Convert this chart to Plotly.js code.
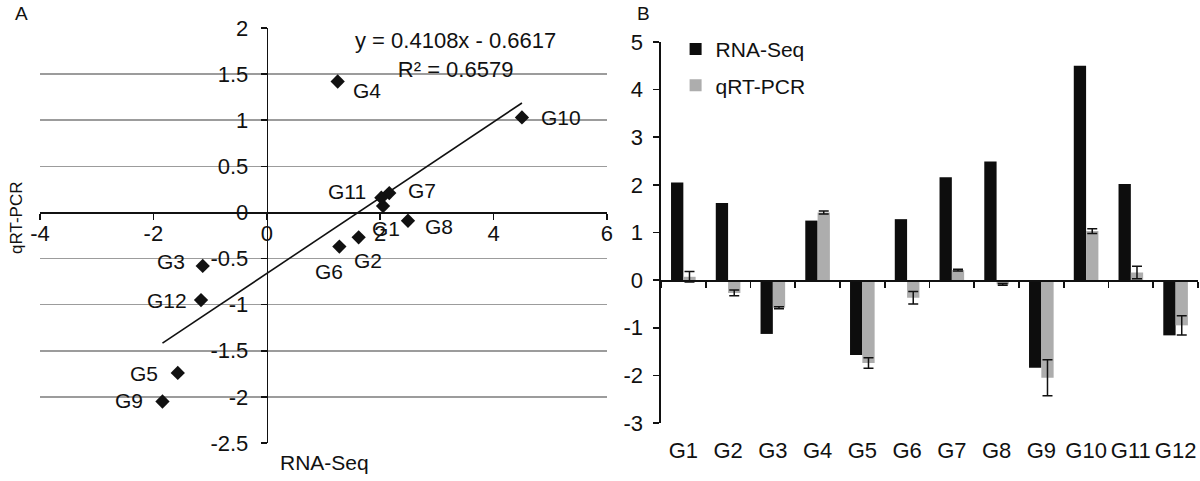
<!DOCTYPE html>
<html>
<head>
<meta charset="utf-8">
<script src="https://cdn.plot.ly/plotly-3.0.1.min.js"></script>
<style>html,body{margin:0;padding:0;background:#fff;}#chart{width:1200px;height:481px;}</style>
</head>
<body>
<div id="chart"></div>
<script>
// ---- data ----
const genes = ['G1','G2','G3','G4','G5','G6','G7','G8','G9','G10','G11','G12'];
const rnaSeq = [2.05, 1.62, -1.13, 1.25, -1.57, 1.28, 2.16, 2.49, -1.84, 4.50, 2.02, -1.16];
const qrtPcr = [0.07, -0.27, -0.58, 1.42, -1.74, -0.37, 0.21, -0.09, -2.05, 1.03, 0.16, -0.95];
const qrtErr = [0.11, 0.06, 0.02, 0.03, 0.11, 0.13, 0.02, 0.02, 0.38, 0.05, 0.13, 0.20];
const slope = 0.4108;
const intercept = -0.6617;
const rSquared = 0.6579;
const scatterXTicks = [-4, -2, 0, 2, 4, 6];
const scatterXTickText = ['-4', '-2', '0', '2', '4', '6'];
const scatterYTicks = [2, 1.5, 1, 0.5, 0, -0.5, -1, -1.5, -2, -2.5];
const scatterYTickText = ['2', '1.5', '1', '0.5', '0', '-0.5', '-1', '-1.5', '-2', '-2.5'];
const barYTicks = [5, 4, 3, 2, 1, 0, -1, -2, -3];
const barYTickText = ['5', '4', '3', '2', '1', '0', '-1', '-2', '-3'];

// ---- label placement for the scatter points (style only) ----
const labelAnchor = ['center','center','right','left','right','center','left','left','right','left','right','right'];
const labelDx = [3, 9, -16, 13, -18, -10, 17, 15, -17, 17, -13, -12];
const labelDy = [-23, -23, 4, -9, -1, -25, 3, -6, 1, 0, 6, 0];

const FONT = 'Liberation Sans, Arial, sans-serif';
const INK = '#111111';

const xMin = Math.min(...rnaSeq), xMax = Math.max(...rnaSeq);
const trendX = [xMin, xMax];
const trendY = trendX.map(v => slope * v + intercept);

const traces = [
  {
    type: 'scatter', mode: 'lines', x: trendX, y: trendY, xaxis: 'x', yaxis: 'y',
    line: {color: INK, width: 1.6}, showlegend: false, hoverinfo: 'skip'
  },
  {
    type: 'scatter', mode: 'markers', x: rnaSeq, y: qrtPcr, xaxis: 'x', yaxis: 'y',
    marker: {symbol: 'diamond', size: 11, color: INK},
    showlegend: false, cliponaxis: false
  },
  {
    type: 'bar', name: 'RNA-Seq', x: genes, y: rnaSeq, xaxis: 'x2', yaxis: 'y2',
    marker: {color: '#0d0d0d'}, legendgroup: 'a'
  },
  {
    type: 'bar', name: 'qRT-PCR', x: genes, y: qrtPcr, xaxis: 'x2', yaxis: 'y2',
    marker: {color: '#adadad'}, legendgroup: 'b',
    error_y: {type: 'data', array: qrtErr, visible: true, color: INK, thickness: 1.5, width: 5}
  }
];

const axisCommon = {
  showline: true, linecolor: INK, linewidth: 1.6,
  ticks: 'outside', ticklen: 6, tickcolor: INK, tickwidth: 1.6,
  zeroline: false, showgrid: false, fixedrange: true,
  tickfont: {family: FONT, size: 22, color: INK}
};

const pointLabels = genes.map((g, i) => ({
  text: g, xref: 'x', yref: 'y', x: rnaSeq[i], y: qrtPcr[i], showarrow: false,
  xanchor: labelAnchor[i], yanchor: 'middle', xshift: labelDx[i], yshift: labelDy[i],
  font: {family: FONT, size: 21, color: INK}
}));

const layout = {
  width: 1200, height: 481,
  margin: {l: 0, r: 0, t: 0, b: 0, pad: 0},
  paper_bgcolor: '#ffffff', plot_bgcolor: '#ffffff',
  font: {family: FONT, color: INK},
  barmode: 'group', bargap: 0.45, bargroupgap: 0,
  showlegend: true,
  legend: {
    x: 0.563, y: 0.940, xanchor: 'left', yanchor: 'top',
    font: {family: FONT, size: 21, color: INK},
    bgcolor: 'rgba(0,0,0,0)', traceorder: 'grouped', tracegroupgap: 6,
    itemwidth: 30
  },
  xaxis: Object.assign({}, axisCommon, {
    domain: [0.03333, 0.50583], range: [-4, 6], anchor: 'free', position: 0.5584,
    tickmode: 'array', tickvals: scatterXTicks, ticktext: scatterXTickText,
    tickangle: 0, ticklabelstandoff: -5
  }),
  yaxis: Object.assign({}, axisCommon, {
    domain: [0.0790, 0.9418], range: [-2.5, 2], anchor: 'free', position: 0.2223,
    tickmode: 'array', tickvals: scatterYTicks, ticktext: scatterYTickText,
    showgrid: true, gridcolor: '#9c9c9c', gridwidth: 1.5,
    ticklabelstandoff: 8
  }),
  xaxis2: Object.assign({}, axisCommon, {
    domain: [0.5508, 0.9983], range: [-0.5, 11.5], anchor: 'free', position: 0.4177,
    type: 'category', tickson: 'boundaries', tickangle: 0,
    ticklabelstandoff: 150
  }),
  yaxis2: Object.assign({}, axisCommon, {
    domain: [0.1206, 0.9127], range: [-3, 5], anchor: 'x2',
    tickmode: 'array', tickvals: barYTicks, ticktext: barYTickText,
    ticklabelstandoff: 6
  }),
  annotations: pointLabels.concat([
    {text: 'A', xref: 'paper', yref: 'paper', x: 0.0178, y: 0.972, showarrow: false,
     font: {family: FONT, size: 19, color: INK}, xanchor: 'center', yanchor: 'middle'},
    {text: 'B', xref: 'paper', yref: 'paper', x: 0.536, y: 0.972, showarrow: false,
     font: {family: FONT, size: 19, color: INK}, xanchor: 'center', yanchor: 'middle'},
    {text: 'qRT-PCR', xref: 'paper', yref: 'paper', x: 0.0142, y: 0.547, textangle: -90, showarrow: false,
     font: {family: FONT, size: 17, color: INK}, xanchor: 'center', yanchor: 'middle'},
    {text: 'RNA-Seq', xref: 'paper', yref: 'paper', x: 0.27, y: 0.039, showarrow: false,
     font: {family: FONT, size: 21, color: INK}, xanchor: 'center', yanchor: 'middle'},
    {text: 'y = ' + slope + 'x - ' + Math.abs(intercept) + '<br>R² = ' + rSquared,
     xref: 'x', yref: 'y', x: 3.32, y: 1.705, showarrow: false,
     font: {family: FONT, size: 22, color: INK}, xanchor: 'center', yanchor: 'middle'}
  ])
};

Plotly.newPlot('chart', traces, layout, {staticPlot: true, displayModeBar: false});
</script>
</body>
</html>
